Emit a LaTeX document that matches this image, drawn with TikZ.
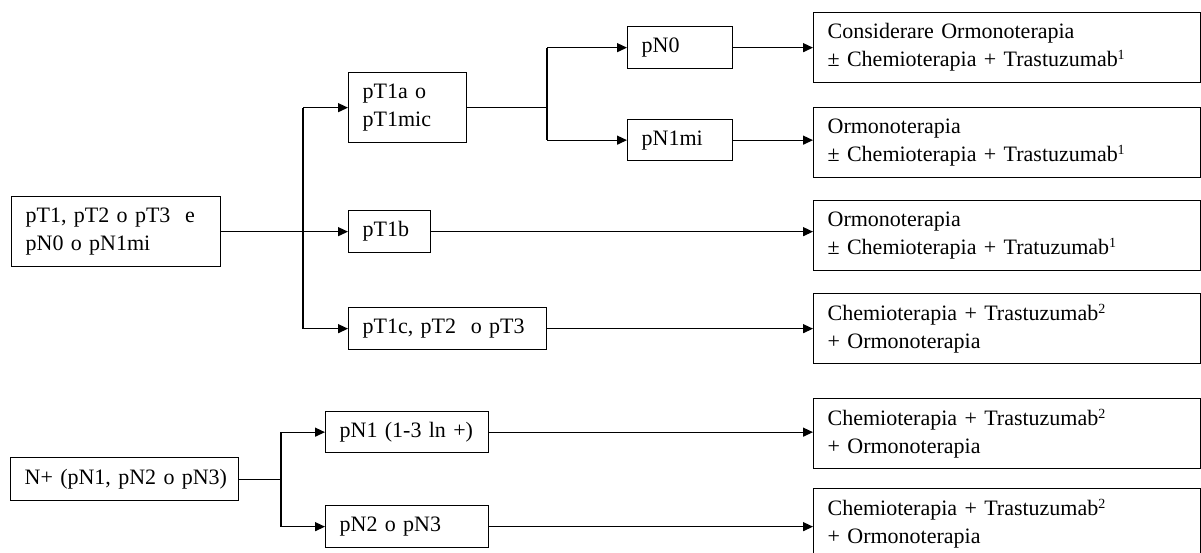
\documentclass[tikz,border=0pt]{standalone}
\usepackage{fontspec}
\setmainfont{Liberation Serif}
\usetikzlibrary{arrows.meta}
\tikzset{
  bx/.style={draw, line width=1.3pt, anchor=north west, align=left, inner xsep=14pt, inner ysep=0pt,
    font=\fontsize{22}{28}\selectfont},
  conn/.style={line width=1.3pt},
  arr/.style={conn, -{Triangle[length=10pt,width=9pt]}}
}
\newcommand{\supr}[1]{\textsuperscript{\fontsize{14}{14}\selectfont #1}}
\begin{document}
\begin{tikzpicture}[x=1pt,y=-1pt]
\useasboundingbox (0,0) rectangle (1201,552);
% column 1
\node[bx, text width=181pt, minimum height=70pt] (A) at (11,196) {\mbox{pT1, pT2 o pT3\ \ e}\\\mbox{pN0 o pN1mi}};
\node[bx, text width=200pt, minimum height=43pt] (NP) at (10,457) {\mbox{N+ (pN1, pN2 o pN3)}};
% column 2
\node[bx, text width=90pt, minimum height=70pt] (T1a) at (348,72) {pT1a o\\pT1mic};
\node[bx, text width=54pt, minimum height=42pt] (T1b) at (348,210) {pT1b};
\node[bx, text width=170pt, minimum height=42pt] (T1c) at (348,307) {\mbox{pT1c, pT2\ \ o pT3}};
\node[bx, text width=135pt, minimum height=41pt] (N1) at (325,411) {\mbox{pN1 (1-3 ln +)}};
\node[bx, text width=135pt, minimum height=42pt] (N2) at (325,505) {pN2 o pN3};
% column 3
\node[bx, text width=77pt, minimum height=42pt] (N0) at (627,26) {pN0};
\node[bx, text width=77pt, minimum height=41pt] (N1mi) at (627,119) {pN1mi};
% column 4
\node[bx, text width=359pt, minimum height=70pt] (R1) at (813,12) {Considerare Ormonoterapia\\± Chemioterapia + Trastuzumab\supr{1}};
\node[bx, text width=359pt, minimum height=70pt] (R2) at (813,107) {Ormonoterapia\\± Chemioterapia + Trastuzumab\supr{1}};
\node[bx, text width=359pt, minimum height=70pt] (R3) at (813,200) {Ormonoterapia\\± Chemioterapia + Tratuzumab\supr{1}};
\node[bx, text width=359pt, minimum height=70pt] (R4) at (813,293) {Chemioterapia + Trastuzumab\supr{2}\\+ Ormonoterapia};
\node[bx, text width=359pt, minimum height=70pt] (R5) at (813,398) {Chemioterapia + Trastuzumab\supr{2}\\+ Ormonoterapia};
\node[bx, text width=359pt, minimum height=70pt] (R6) at (813,488) {Chemioterapia + Trastuzumab\supr{2}\\+ Ormonoterapia};
% buses
\coordinate (b1) at (303,0);
\coordinate (b2) at (547,0);
\coordinate (b3) at (281,0);
% connectors group 1
\draw[arr] (A.east) -- (A.east -| T1b.west);
\draw[arr] (T1a.west -| b1) -- (T1a.west);
\draw[arr] (T1c.west -| b1) -- (T1c.west);
\draw[conn] (T1a.west -| b1) -- (T1c.west -| b1);
\draw[conn] (T1a.east) -- (T1a.east -| b2);
\draw[arr] (N0.west -| b2) -- (N0.west);
\draw[arr] (N1mi.west -| b2) -- (N1mi.west);
\draw[conn] (N0.west -| b2) -- (N1mi.west -| b2);
\draw[arr] (N0.east) -- (N0.east -| R1.west);
\draw[arr] (N1mi.east) -- (N1mi.east -| R2.west);
\draw[arr] (T1b.east) -- (T1b.east -| R3.west);
\draw[arr] (T1c.east) -- (T1c.east -| R4.west);
% connectors group 2
\draw[conn] (NP.east) -- (NP.east -| b3);
\draw[arr] (N1.west -| b3) -- (N1.west);
\draw[arr] (N2.west -| b3) -- (N2.west);
\draw[conn] (N1.west -| b3) -- (N2.west -| b3);
\draw[arr] (N1.east) -- (N1.east -| R5.west);
\draw[arr] (N2.east) -- (N2.east -| R6.west);
\end{tikzpicture}
\end{document}
